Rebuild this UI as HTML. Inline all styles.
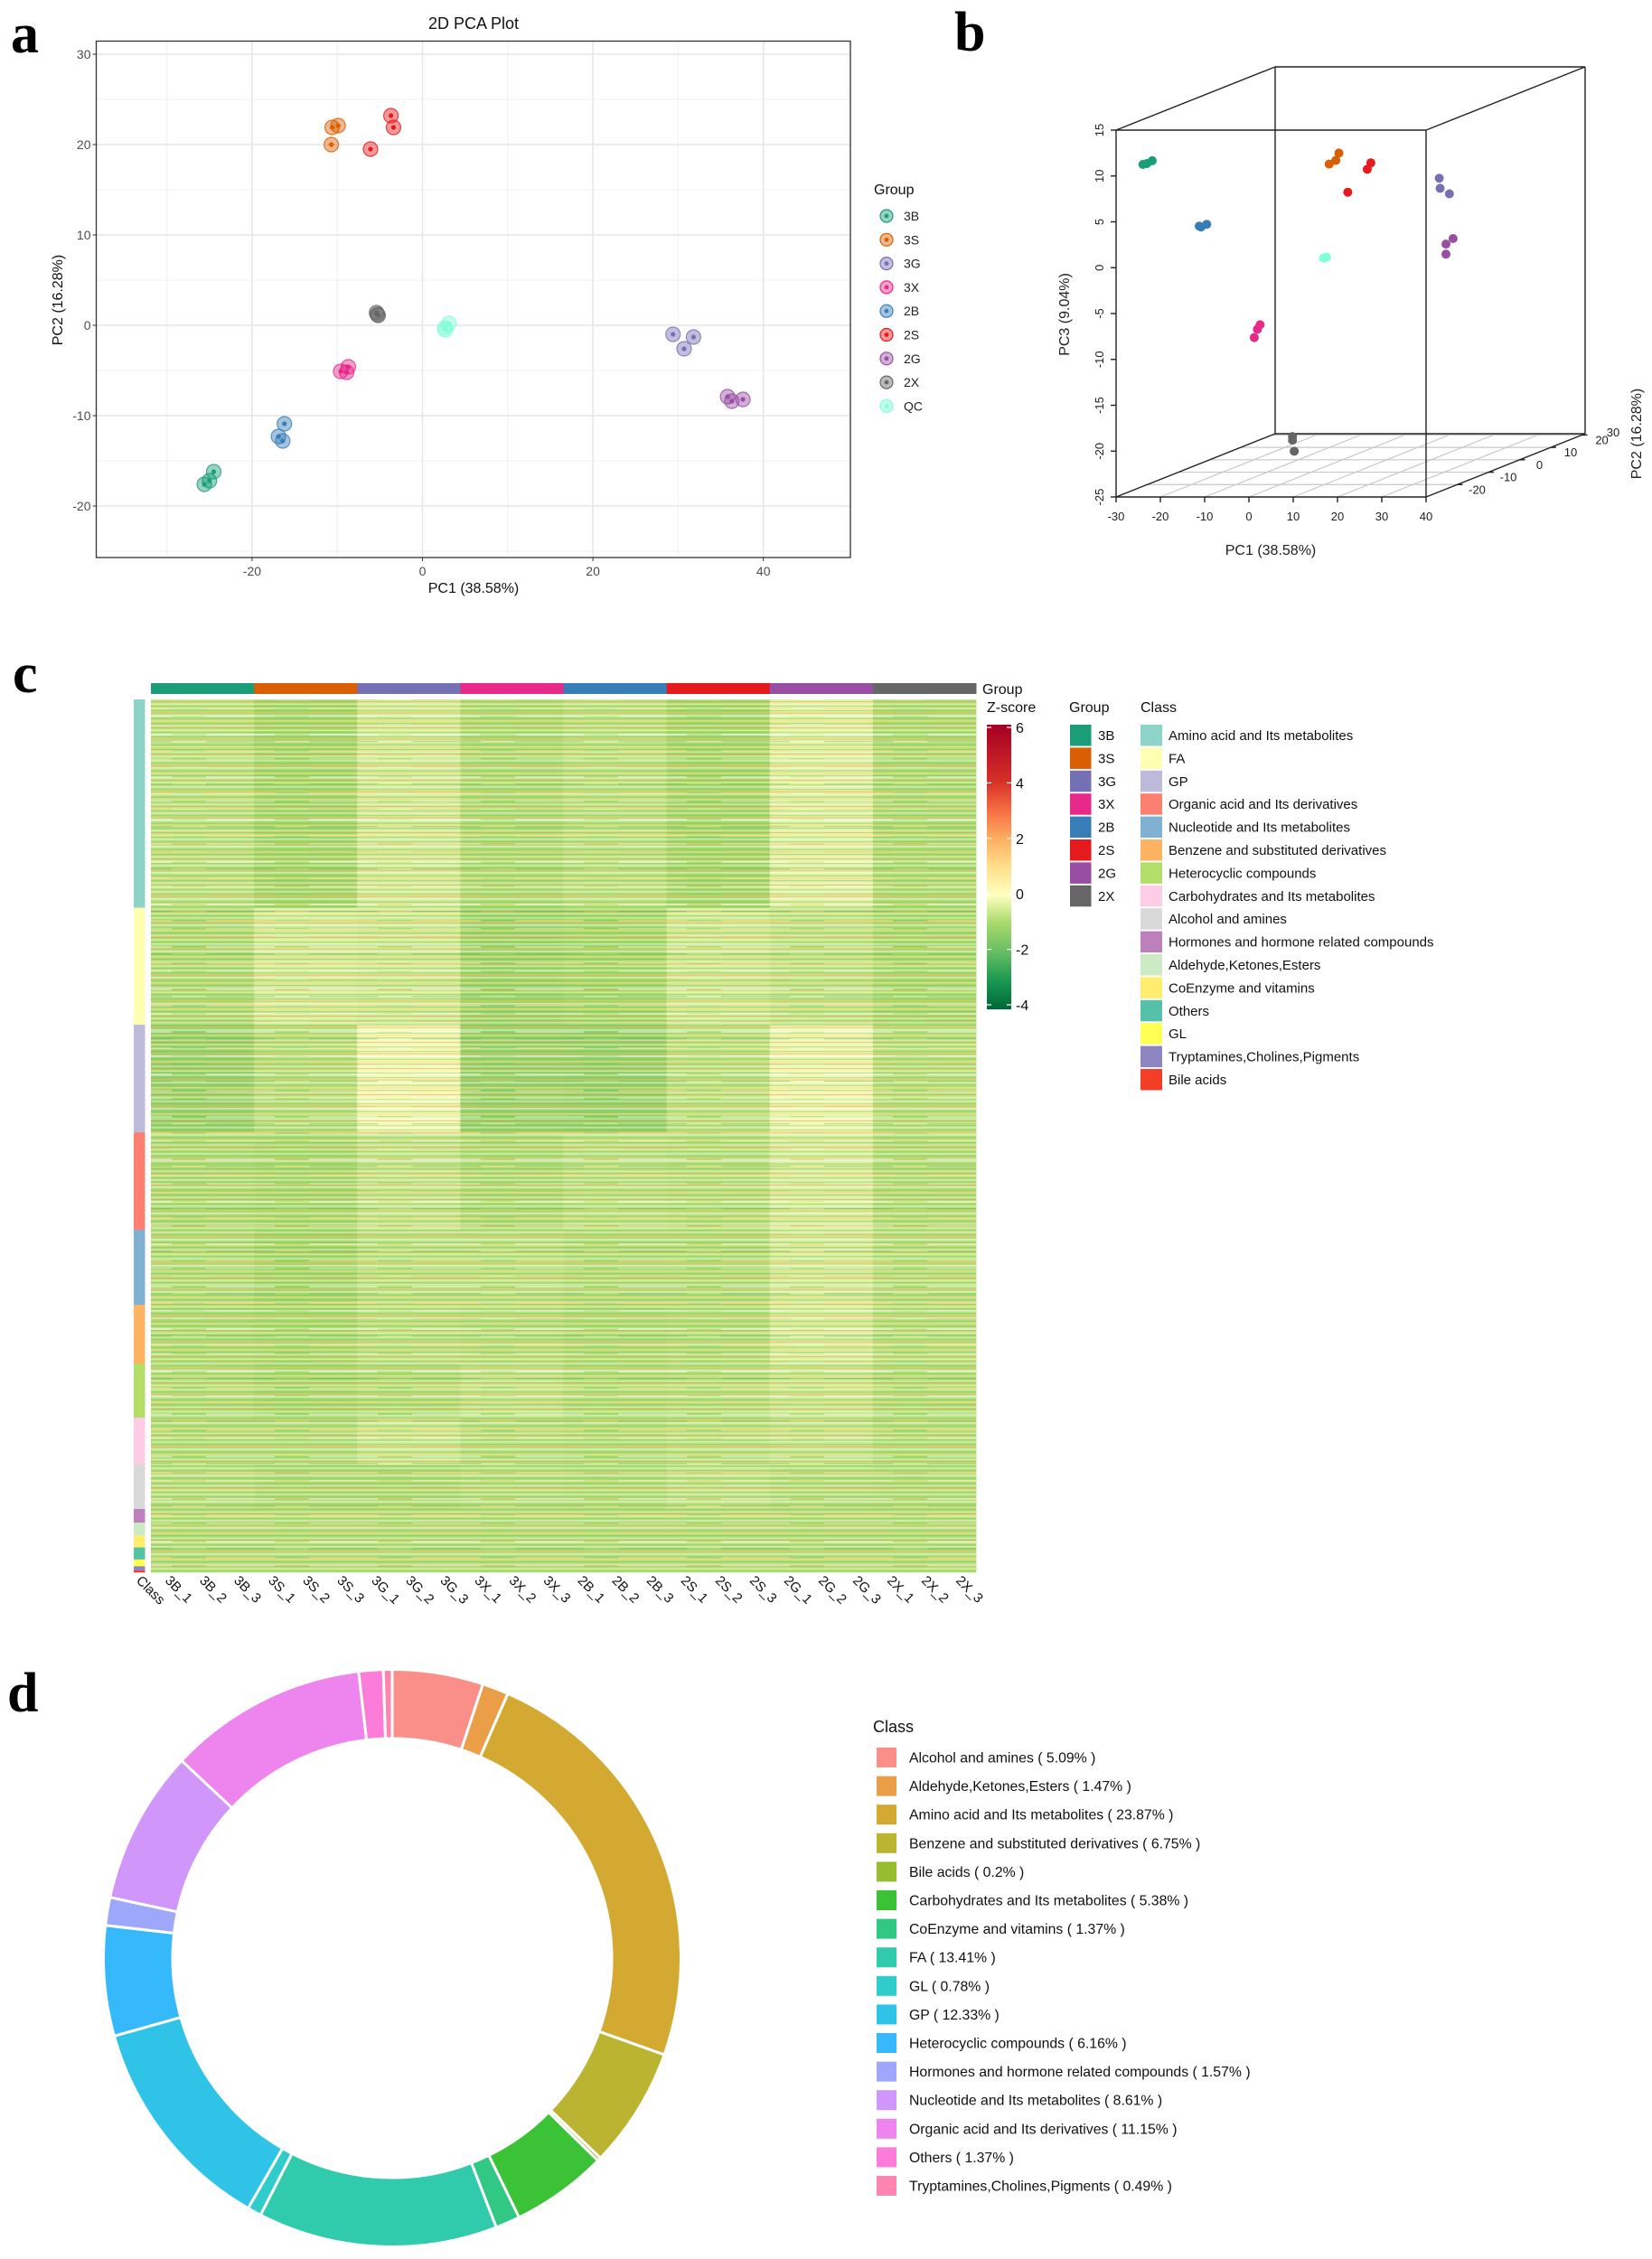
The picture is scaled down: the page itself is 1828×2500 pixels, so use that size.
<!DOCTYPE html>
<html><head><meta charset="utf-8"><style>
html,body{margin:0;padding:0;background:#fff;}
svg{display:block;font-family:"Liberation Sans",Arial,sans-serif;}
.pl{font-family:"Liberation Serif",serif;font-weight:bold;font-size:62px;}
</style></head><body>
<svg id="fig" width="1828" height="2500" viewBox="0 0 1828 2500" xmlns="http://www.w3.org/2000/svg">
<text class="pl" x="12" y="58">a</text>
<text class="pl" x="1056" y="56">b</text>
<text class="pl" x="14" y="766">c</text>
<text class="pl" x="8" y="1894">d</text>
<g id="pa"></g>
<g id="pb"></g>
<g id="pc"></g>
<g id="pd"></g>
</svg>
<script>
// ---------- shared data ----------
const groups = ["3B","3S","3G","3X","2B","2S","2G","2X","QC"];
const groupColors = ["#1B9E77","#D95F02","#7570B3","#E7298A","#377EB8","#E41A1C","#984EA3","#666666","#7FFFD4"];
// 2D PCA (3 samples per group)
const pc1 = [[-25.6,-25.0,-24.5],[-10.6,-9.9,-10.7],[29.4,31.8,30.7],[-9.6,-8.7,-8.9],[-16.2,-16.9,-16.4],[-3.7,-3.4,-6.1],[35.8,36.3,37.6],[-5.4,-5.2,-5.3],[2.6,3.1,2.7]];
const pc2 = [[-17.6,-17.2,-16.2],[21.9,22.1,20.0],[-1.0,-1.3,-2.6],[-5.1,-4.6,-5.2],[-10.9,-12.3,-12.8],[23.2,21.9,19.5],[-7.9,-8.4,-8.2],[1.4,1.1,1.2],[-0.3,0.2,-0.5]];
// 3D PCA
const d3pc1 = [[-33.1,-32.2,-31.0],[-15.6,-16.3,-17.8],[22.9,23.1,25.2],[-15.1,-15.7,-16.4],[-23.9,-22.2,-23.5],[-9.1,-9.9,-14.3],[30.6,29.0,29.0],[-12.0,-12.0,-11.6],[-4.3,-3.6,-4.0]];
const d3pc2 = [[-17,-17,-17],[21,21,21],[-1.5,-1.5,-1.5],[-5,-5,-5],[-12,-12,-12],[22,22,22],[-8,-8,-8],[1,1,1],[0,0,0]];
const d3pc3 = [[9.5,9.6,9.9],[5.6,4.8,4.4],[5.9,4.8,4.2],[-9.6,-10.1,-11.0],[2.1,2.3,2.0],[4.4,3.7,1.2],[0.2,-0.4,-1.5],[-22.6,-23.0,-24.2],[-3.0,-2.9,-3.0]];
// classes
const classNames = ["Alcohol and amines","Aldehyde,Ketones,Esters","Amino acid and Its metabolites","Benzene and substituted derivatives","Bile acids","Carbohydrates and Its metabolites","CoEnzyme and vitamins","FA","GL","GP","Heterocyclic compounds","Hormones and hormone related compounds","Nucleotide and Its metabolites","Organic acid and Its derivatives","Others","Tryptamines,Cholines,Pigments"];
const classPct = [5.09,1.47,23.87,6.75,0.2,5.38,1.37,13.41,0.78,12.33,6.16,1.57,8.61,11.15,1.37,0.49];
const donutColors = ["#F98F88","#EA9E47","#D4A932","#BBB430","#95BD2E","#3BC236","#30C882","#30CBAD","#30CCCC","#30C3E8","#35B9FA","#9EA8FA","#D096FA","#EE85EE","#FC7DD9","#FD85B0"];
// heatmap order
const hmClasses = ["Amino acid and Its metabolites","FA","GP","Organic acid and Its derivatives","Nucleotide and Its metabolites","Benzene and substituted derivatives","Heterocyclic compounds","Carbohydrates and Its metabolites","Alcohol and amines","Hormones and hormone related compounds","Aldehyde,Ketones,Esters","CoEnzyme and vitamins","Others","GL","Tryptamines,Cholines,Pigments","Bile acids"];
const hmClassColors = ["#8DD3C7","#FFFFB3","#BEBADA","#FB8072","#80B1D3","#FDB462","#B3DE69","#FCCDE5","#D9D9D9","#BC80BD","#CCEBC5","#FFED6F","#55C1A9","#FFFF55","#8E86C2","#F33F28"];
// mean z-score per heatmap class (rows) x group (3B,3S,3G,3X,2B,2S,2G,2X)
const hmMeans = [
 [-0.75,-1.0,-0.5,-0.9,-0.75,-1.0,-0.35,-0.9],
 [-0.9,-0.5,-0.55,-1.1,-1.0,-0.55,-0.7,-0.95],
 [-1.2,-0.8,-0.15,-1.2,-1.25,-0.75,-0.2,-0.8],
 [-0.9,-0.95,-0.65,-0.9,-0.75,-0.8,-0.45,-0.85],
 [-0.85,-1.0,-0.75,-0.75,-0.85,-0.85,-0.5,-0.8],
 [-0.9,-0.95,-0.75,-0.8,-0.9,-0.85,-0.45,-0.8],
 [-0.85,-0.95,-0.85,-0.7,-0.85,-0.8,-0.6,-0.85],
 [-0.85,-0.85,-0.6,-0.8,-0.85,-0.75,-0.65,-0.85],
 [-0.8,-0.9,-0.9,-0.8,-0.85,-0.7,-0.8,-0.85],
 [-0.85,-0.85,-0.85,-0.85,-0.85,-0.85,-0.85,-0.85],
 [-0.85,-0.85,-0.85,-0.85,-0.85,-0.85,-0.85,-0.85],
 [-0.85,-0.85,-0.85,-0.85,-0.85,-0.85,-0.85,-0.85],
 [-0.85,-0.85,-0.85,-0.85,-0.85,-0.85,-0.85,-0.85],
 [-0.85,-0.85,-0.85,-0.85,-0.85,-0.85,-0.85,-0.85],
 [-0.85,-0.85,-0.85,-0.85,-0.85,-0.85,-0.85,-0.85],
 [-0.85,-0.85,-0.85,-0.85,-0.85,-0.85,-0.85,-0.85]];
const zTicks = [6,4,2,0,-2,-4];

const NS="http://www.w3.org/2000/svg";
function mk(parent,tag,attrs,text){const e=document.createElementNS(NS,tag);for(const k in attrs)e.setAttribute(k,attrs[k]);if(text!==undefined)e.textContent=text;parent.appendChild(e);return e;}

// ---------- Panel a ----------
(function(){
const g=document.getElementById('pa');
const L=106.5,R=941,T=45.5,B=617;
const xs=v=>467.5+v*9.43, ys=v=>360-v*10;
let e=mk(g,'rect',{x:L,y:T,width:R-L,height:B-T,fill:'#fff'});

for(let v=-30;v<=50;v+=10){const x=xs(v);if(x<L||x>R)continue;e=mk(g,'line',{x1:x,x2:x,y1:T,y2:B,stroke:v%20===0?'#e6e6e6':'#f0f0f0','stroke-width':v%20===0?1.6:1});}
for(let v=-25;v<=30;v+=5){const y=ys(v);if(y<T||y>B)continue;e=mk(g,'line',{x1:L,x2:R,y1:y,y2:y,stroke:v%10===0?'#e6e6e6':'#f0f0f0','stroke-width':v%10===0?1.6:1});}
e=mk(g,'rect',{x:L,y:T,width:R-L,height:B-T,fill:'none',stroke:'#333','stroke-width':1.3});

for(const v of [-20,0,20,40]){const x=xs(v);mk(g,'line',{x1:x,x2:x,y1:B,y2:B+4,stroke:'#333'});e=mk(g,'text',{x:x,y:B+20,'text-anchor':'middle','font-size':14,fill:'#4d4d4d'},v);}
for(const v of [-20,-10,0,10,20,30]){const y=ys(v);mk(g,'line',{x1:L-4,x2:L,y1:y,y2:y,stroke:'#333'});e=mk(g,'text',{x:L-6,y:y+5,'text-anchor':'end','font-size':14,fill:'#4d4d4d'},v);}
e=mk(g,'text',{x:524,y:32,'text-anchor':'middle','font-size':18,fill:'#111'},'2D PCA Plot');
e=mk(g,'text',{x:524,y:656,'text-anchor':'middle','font-size':16,fill:'#111'},'PC1 (38.58%)');
e=mk(g,'text',{x:69,y:332,'text-anchor':'middle','font-size':16,fill:'#111',transform:'rotate(-90 69 332)'},'PC2 (16.28%)');
for(let i=0;i<groups.length;i++){for(let j=0;j<3;j++){const x=xs(pc1[i][j]),y=ys(pc2[i][j]);
 e=mk(g,'circle',{cx:x,cy:y,r:8,fill:groupColors[i],'fill-opacity':0.45,stroke:groupColors[i],'stroke-opacity':0.8,'stroke-width':1.2});
 mk(g,'circle',{cx:x,cy:y,r:2.6,fill:groupColors[i]});}}
e=mk(g,'text',{x:967,y:215,'font-size':16,fill:'#111'},'Group');
for(let i=0;i<groups.length;i++){const y=239+26.3*i;
 e=mk(g,'circle',{cx:981,cy:y,r:7,fill:groupColors[i],'fill-opacity':0.45,stroke:groupColors[i],'stroke-width':1.2});
 mk(g,'circle',{cx:981,cy:y,r:2.4,fill:groupColors[i]});
 e=mk(g,'text',{x:1000,y:y+5,'font-size':14,fill:'#222'},groups[i]);}
})();

// ---------- Panel b ----------
(function(){
const g=document.getElementById('pb');
const X0=1235,Y0=550,DX=176,DY=-70;
const fx=v=>(v+30)*4.9, fz=v=>(v+25)*10.15, fd=v=>(v+30)/51;
const P=(a,b,c)=>[X0+fx(a)+fd(b)*DX, Y0-fz(c)+fd(b)*DY];
let e;
const ln=(p,q,attrs,name)=>{e=mk(g,'line',Object.assign({x1:p[0],y1:p[1],x2:q[0],y2:q[1]},attrs));};
const gs={stroke:'#c8c8c8','stroke-width':1.2};
for(const v of [-20,-10,0,10,20]) ln(P(-30,v,-25),P(40,v,-25),gs,'floor-gridline');
for(const v of [-20,-10,0,10,20,30]) ln(P(v,-30,-25),P(v,21,-25),gs,'floor-gridline');
const bs={stroke:'#222','stroke-width':1.4};
const c=[P(-30,-30,-25),P(40,-30,-25),P(40,21,-25),P(-30,21,-25),P(-30,-30,15),P(40,-30,15),P(40,21,15),P(-30,21,15)];
[[0,1],[1,2],[2,3],[3,0],[4,5],[5,6],[6,7],[7,4],[0,4],[1,5],[2,6],[3,7]].forEach(p=>ln(c[p[0]],c[p[1]],bs,'box-edge'));
for(let v=-30;v<=40;v+=10){const p=P(v,-30,-25);ln(p,[p[0],p[1]+6],bs,'x-tick');e=mk(g,'text',{x:p[0],y:p[1]+26,'text-anchor':'middle','font-size':13,fill:'#222'},v);}
for(let v=-25;v<=15;v+=5){const p=P(-30,-30,v);ln(p,[p[0]-6,p[1]],bs,'z-tick');e=mk(g,'text',{x:p[0]-14,y:p[1],'text-anchor':'middle','font-size':13,fill:'#222',transform:`rotate(-90 ${p[0]-14} ${p[1]})`},v);}
for(let v=-20;v<=20;v+=10){const p=P(40,v,-25);ln(p,[p[0]+6,p[1]],bs,'y-tick');e=mk(g,'text',{x:p[0]+22,y:p[1]+10,'text-anchor':'middle','font-size':13,fill:'#222'},v);}
e=mk(g,'text',{x:1785,y:483,'text-anchor':'middle','font-size':13,fill:'#222'},'30');
e=mk(g,'text',{x:1406,y:614,'text-anchor':'middle','font-size':16,fill:'#222'},'PC1 (38.58%)');
e=mk(g,'text',{x:1183,y:348,'text-anchor':'middle','font-size':16,fill:'#222',transform:'rotate(-90 1183 348)'},'PC3 (9.04%)');
e=mk(g,'text',{x:1816,y:480,'text-anchor':'middle','font-size':16,fill:'#222',transform:'rotate(-90 1816 480)'},'PC2 (16.28%)');
for(let i=0;i<groups.length;i++)for(let j=0;j<3;j++){const p=P(d3pc1[i][j],d3pc2[i][j],d3pc3[i][j]);
 e=mk(g,'circle',{cx:p[0],cy:p[1],r:5,fill:groupColors[i]});}
})();

// ---------- Panel c ----------
(function(){
const g=document.getElementById('pc');
const L=167,R=1080,T=774,B=1740,ncol=24,cw=(R-L)/ncol;
const stops=[[-4,[0,104,55]],[-3,[26,152,80]],[-2,[102,189,99]],[-1,[166,217,106]],[0,[255,255,191]],[1,[254,224,139]],[2,[253,174,97]],[3,[244,109,67]],[4,[215,48,39]],[6,[165,0,38]]];
function col(v){v=Math.max(-4,Math.min(6,v));for(let i=0;i<stops.length-1;i++){const a=stops[i],b=stops[i+1];if(v<=b[0]){const t=(v-a[0])/(b[0]-a[0]);return 'rgb('+a[1].map((c,k)=>Math.round(c+(b[1][k]-c)*t)).join(',')+')';}}return 'rgb(165,0,38)';}
let e;
for(let gi=0;gi<8;gi++){e=mk(g,'rect',{x:L+gi*3*cw,y:756,width:3*cw+0.5,height:12,fill:groupColors[gi]});}
const pctOf=n=>classPct[classNames.indexOf(n)];
let y=T;const H=B-T;
for(let ci=0;ci<hmClasses.length;ci++){const h=pctOf(hmClasses[ci])/100*H;
 e=mk(g,'rect',{x:148,y:y,width:12.5,height:h+0.3,fill:hmClassColors[ci]});
 for(let gi=0;gi<8;gi++){e=mk(g,'rect',{x:L+gi*3*cw,y:y,width:3*cw+0.4,height:h+0.3,fill:col(hmMeans[ci][gi])});}
 y+=h;}
const defs=mk(g,'defs',{});
const pat=mk(defs,'pattern',{id:'stripes',width:38,height:29,patternUnits:'userSpaceOnUse'});
[[0,'#fff',0.4,1.5],[3,'#5aaf55',0.3,1.2],[5.5,'#fdae61',0.55,1.3],[8,'#fff',0.45,1.8],[11.5,'#66bd63',0.35,1.5],[14,'#fee08b',0.55,1.6],[17,'#4fa84b',0.3,1.2],[19.5,'#fff',0.35,1.6],[22,'#f46d43',0.35,1],[24.5,'#ffffbf',0.5,1.5],[27,'#66bd63',0.3,1.2]].forEach(s=>mk(pat,'rect',{x:0,y:s[0],width:38,height:s[3],fill:s[1],'fill-opacity':s[2]}));
const pat2=mk(defs,'pattern',{id:'stripes2',width:114,height:47,patternUnits:'userSpaceOnUse'});
[[2,'#fdae61',0.35,1.2],[13,'#fff',0.4,2],[21,'#4fa84b',0.3,1.3],[31,'#fee08b',0.5,2],[40,'#fff',0.35,1.5]].forEach(s=>mk(pat2,'rect',{x:0,y:s[0],width:76,height:s[3],fill:s[1],'fill-opacity':s[2]}));
e=mk(g,'rect',{x:L,y:T,width:R-L,height:H,fill:'url(#stripes)'});
e=mk(g,'rect',{x:L,y:T,width:R-L,height:H,fill:'url(#stripes2)'});
const labs=[];groups.slice(0,8).forEach(gr=>{for(let k=1;k<=3;k++)labs.push(gr+'_'+k);});
e=mk(g,'text',{x:150,y:1750,'font-size':15,fill:'#111',transform:'rotate(45 150 1750)'},'Class');
labs.forEach((t,i)=>{const x=L+cw*(i+0.5)-4;e=mk(g,'text',{x:x,y:1750,'font-size':15,fill:'#111',transform:`rotate(45 ${x} 1750)`},t);});
e=mk(g,'text',{x:1087,y:768,'font-size':16,fill:'#111'},'Group');
e=mk(g,'text',{x:1092,y:788,'font-size':16,fill:'#111'},'Z-score');
const CT=802,CB=1117,tk=v=>1112-(v+4)*30.7;
const cg=mk(defs,'linearGradient',{id:'zgrad',x1:0,y1:1,x2:0,y2:0});
for(let v=-4;v<=6;v+=0.5)mk(cg,'stop',{offset:((v+4)/10),'stop-color':col(v)});
e=mk(g,'rect',{x:1092,y:CT,width:27,height:CB-CT,fill:'url(#zgrad)'});
zTicks.forEach(v=>{const ty=tk(v);mk(g,'line',{x1:1092,x2:1097,y1:ty,y2:ty,stroke:'#fff','stroke-width':1.2});mk(g,'line',{x1:1114,x2:1119,y1:ty,y2:ty,stroke:'#fff','stroke-width':1.2});e=mk(g,'text',{x:1124,y:ty+6,'font-size':16,fill:'#111'},v);});
e=mk(g,'text',{x:1183,y:788,'font-size':16,fill:'#111'},'Group');
const LS=25.4,LY=802;
for(let i=0;i<8;i++){const yy=LY+LS*i;e=mk(g,'rect',{x:1184,y:yy,width:23.5,height:23.5,fill:groupColors[i]});
 e=mk(g,'text',{x:1215,y:yy+17,'font-size':15,fill:'#111'},groups[i]);}
e=mk(g,'text',{x:1262,y:788,'font-size':16,fill:'#111'},'Class');
for(let i=0;i<hmClasses.length;i++){const yy=LY+LS*i;e=mk(g,'rect',{x:1262,y:yy,width:24,height:23.5,fill:hmClassColors[i]});
 e=mk(g,'text',{x:1293,y:yy+17,'font-size':15,fill:'#111'},hmClasses[i]);}
})();

// ---------- Panel d ----------
(function(){
const g=document.getElementById('pd');
const cx=434,cy=2167,Ro=319.5,Ri=243;
const total=classPct.reduce((a,b)=>a+b,0);
let a0=-Math.PI/2,e;
const pt=(r,a)=>[cx+r*Math.cos(a),cy+r*Math.sin(a)];
for(let i=0;i<classPct.length;i++){const a1=a0+classPct[i]/total*2*Math.PI;const lg=(a1-a0)>Math.PI?1:0;
 const p1=pt(Ro,a0),p2=pt(Ro,a1),p3=pt(Ri,a1),p4=pt(Ri,a0);
 e=mk(g,'path',{d:`M${p1} A${Ro},${Ro} 0 ${lg} 1 ${p2} L${p3} A${Ri},${Ri} 0 ${lg} 0 ${p4} Z`,fill:donutColors[i],stroke:'#fff','stroke-width':3});
 a0=a1;}
e=mk(g,'text',{x:966,y:1917,'font-size':18,fill:'#111'},'Class');
for(let i=0;i<classNames.length;i++){const yy=1934+31.6*i;
 e=mk(g,'rect',{x:970,y:yy,width:22,height:22,fill:donutColors[i]});
 e=mk(g,'text',{x:1006,y:yy+16.5,'font-size':15.8,fill:'#111'},classNames[i]+' ( '+classPct[i]+'% )');}
})();
</script>
</body></html>
